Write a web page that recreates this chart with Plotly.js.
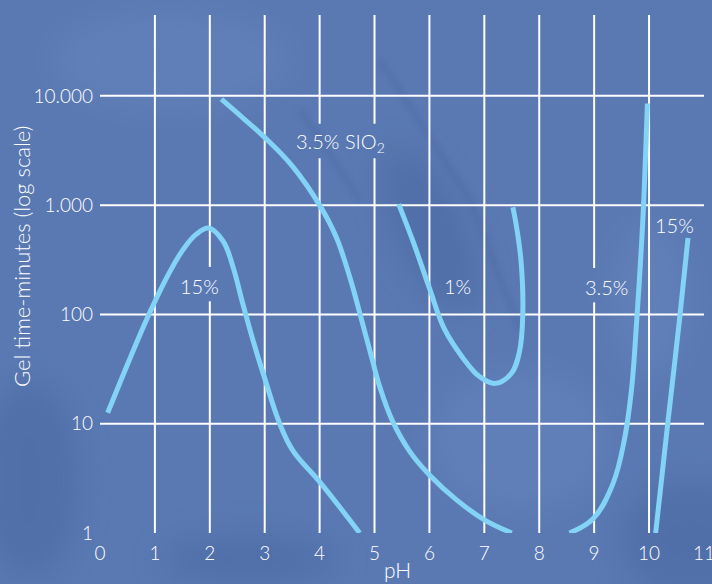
<!DOCTYPE html>
<html>
<head>
<meta charset="utf-8">
<script src="https://cdn.plot.ly/plotly-3.0.1.min.js"></script>
<style>
html,body{margin:0;padding:0;background:#5a79b3;}
#chart{width:712px;height:584px;}
</style>
</head>
<body>
<div id="chart"></div>
<script>
// ---- data ----
const xTickVals = [0,1,2,3,4,5,6,7,8,9,10,11];
const xTickText = ['0','1','2','3','4','5','6','7','8','9','10','11'];
const yTickVals = [1,10,100,1000,10000];
const yTickText = ['1','10','100','1.000','10.000'];
const xGridVals = [1,2,3,4,5,6,7,8,9,10];
const yGridVals = [10,100,1000,10000];

// 15% (acid side)
const c15aX = [0.14,0.55,0.91,1.27,1.51,1.75,1.98,2.24,2.42,2.6,2.8,3.0,3.27,3.51,4.02,4.73];
const c15aY = [12.6,40,105,245,390,540,617,470,275,126,55,26,10.1,5.7,2.86,1.0];
// 3.5% SiO2
const c35aX = [2.21,2.6,3.0,3.5,4.0,4.3,4.55,4.75,4.95,5.1,5.33,5.65,6.0,6.5,7.0,7.5];
const c35aY = [9330,6300,4170,2290,1000,513,219,95,40,21.4,10.5,5.5,3.4,2.0,1.32,1.0];
// 1%
const c1X = [5.44,5.70,6.0,6.27,6.61,6.91,7.20,7.49,7.64,7.70,7.67,7.59,7.52];
const c1Y = [1023,468,174,74,40,27,23.4,28.8,45.7,98,302,617,955];
// 3.5% (alkaline side)
const c35bX = [8.55,8.98,9.34,9.55,9.68,9.78,9.85,9.90,9.97];
const c35bY = [1.0,1.35,2.8,7.1,20.4,95,339,1000,8510];
// 15% (alkaline side)
const c15bX = [10.12,10.34,10.56,10.71];
const c15bY = [1.0,10,95,500];

const labelText = ['15%','3.5% SIO<sub>2</sub>','1%','3.5%','15%'];
const labelX = [1.81,4.38,6.51,9.23,10.46];
const labelY = [182,3715,182,178,661];
const labelCuts = [[2],[4,5],[],[9],[]];

// ---- styling ----
const lineColor = '#82d3f5';
const gridColor = '#ffffff';
const bgColor = '#5a79b3';
const fontFam = 'Lato, "Open Sans", sans-serif';
const yTopLog = 4.74;

function curve(x, y){
  return {x:x, y:y, type:'scatter', mode:'lines',
    line:{color:lineColor, width:5, shape:'spline', smoothing:1.1},
    hoverinfo:'skip', showlegend:false};
}
const traces = [curve(c15aX,c15aY), curve(c35aX,c35aY), curve(c1X,c1Y), curve(c35bX,c35bY), curve(c15bX,c15bY)];

// gridline shapes (data values on the log axis), with gaps behind labels
const shapes = [];
const yTopVal = Math.pow(10, yTopLog);
xGridVals.forEach(gx => {
  const gaps = [];
  labelCuts.forEach((cuts,i) => {
    if (cuts.includes(gx)) {
      const c = Math.log10(labelY[i]);
      gaps.push([Math.pow(10, c-0.14), Math.pow(10, c+0.175)]);
    }
  });
  gaps.sort((a,b)=>a[0]-b[0]);
  let start = 1;
  gaps.forEach(g => {
    shapes.push({type:'line', xref:'x', yref:'y', x0:gx, x1:gx, y0:start, y1:g[0], line:{color:gridColor, width:2}, layer:'below'});
    start = g[1];
  });
  shapes.push({type:'line', xref:'x', yref:'y', x0:gx, x1:gx, y0:start, y1:yTopVal, line:{color:gridColor, width:2}, layer:'below'});
});
yGridVals.forEach(gy => {
  shapes.push({type:'line', xref:'x', yref:'y', x0:0, x1:11, y0:gy, y1:gy, line:{color:gridColor, width:2}, layer:'below'});
});

// subtle stone texture behind the chart
const svgBg = '<svg xmlns="http://www.w3.org/2000/svg" width="712" height="584">' +
  '<defs><filter id="b" filterUnits="userSpaceOnUse" x="0" y="0" width="712" height="584"><feGaussianBlur stdDeviation="16"/></filter>' +
  '<filter id="s" filterUnits="userSpaceOnUse" x="0" y="0" width="712" height="584"><feGaussianBlur stdDeviation="3"/></filter></defs>' +
  '<rect width="712" height="584" fill="' + bgColor + '"/>' +
  '<g filter="url(#b)" fill="#3f5e98" opacity="0.35">' +
  '<ellipse cx="30" cy="480" rx="50" ry="100"/>' +
  '<ellipse cx="690" cy="540" rx="70" ry="60"/>' +
  '<ellipse cx="430" cy="230" rx="35" ry="90" transform="rotate(-25 430 230)"/>' +
  '<ellipse cx="250" cy="560" rx="90" ry="25"/>' +
  '</g>' +
  '<g filter="url(#b)" fill="#6a89c0" opacity="0.4">' +
  '<ellipse cx="170" cy="60" rx="120" ry="50"/>' +
  '<ellipse cx="520" cy="440" rx="90" ry="70"/>' +
  '<ellipse cx="650" cy="300" rx="40" ry="80"/>' +
  '</g>' +
  '<g filter="url(#s)" stroke="#3d5a93" stroke-width="4" opacity="0.35" fill="none">' +
  '<path d="M380 60 L470 200 L520 330"/>' +
  '<path d="M300 110 L360 200"/>' +
  '</g></svg>';
const bgImage = 'data:image/svg+xml;charset=utf-8,' + encodeURIComponent(svgBg);

const txtFont = (s) => ({family:fontFam, size:s, color:'#ffffff', weight:300});

const annotations = labelText.map((t,i) => ({
  text:t, x:labelX[i], y:Math.log10(labelY[i]), xref:'x', yref:'y', showarrow:false,
  font:txtFont(20)
}));
annotations.push({text:'Gel time-minutes (log scale)', textangle:-90, xref:'paper', yref:'paper',
  x:-0.129, y:0.533, xanchor:'center', yanchor:'middle', showarrow:false, font:txtFont(22)});
annotations.push({text:'pH', xref:'paper', yref:'paper', x:0.493, y:-0.0975, xanchor:'center', yanchor:'bottom',
  showarrow:false, font:txtFont(21)});

const layout = {
  width:712, height:584,
  margin:{l:100, r:8, t:15, b:51},
  paper_bgcolor:bgColor, plot_bgcolor:'rgba(0,0,0,0)',
  font:txtFont(19),
  images:[{source:bgImage, xref:'paper', yref:'paper', x:-100/604, y:1+15/518, sizex:712/604, sizey:584/518,
    xanchor:'left', yanchor:'top', sizing:'stretch', layer:'below'}],
  xaxis:{range:[0,11.001], tickvals:xTickVals, ticktext:xTickText, showgrid:false, zeroline:false,
    showline:false, ticks:'', ticklabelstandoff:7, ticklabeloverflow:'allow', tickfont:txtFont(19)},
  yaxis:{type:'log', range:[0,yTopLog], tickvals:yTickVals, ticktext:yTickText, showgrid:false, zeroline:false,
    showline:false, ticks:'', ticklabelstandoff:6, tickfont:txtFont(19)},
  shapes:shapes, annotations:annotations, showlegend:false
};
Plotly.newPlot('chart', traces, layout, {displayModeBar:false, staticPlot:true});
</script>
</body>
</html>
